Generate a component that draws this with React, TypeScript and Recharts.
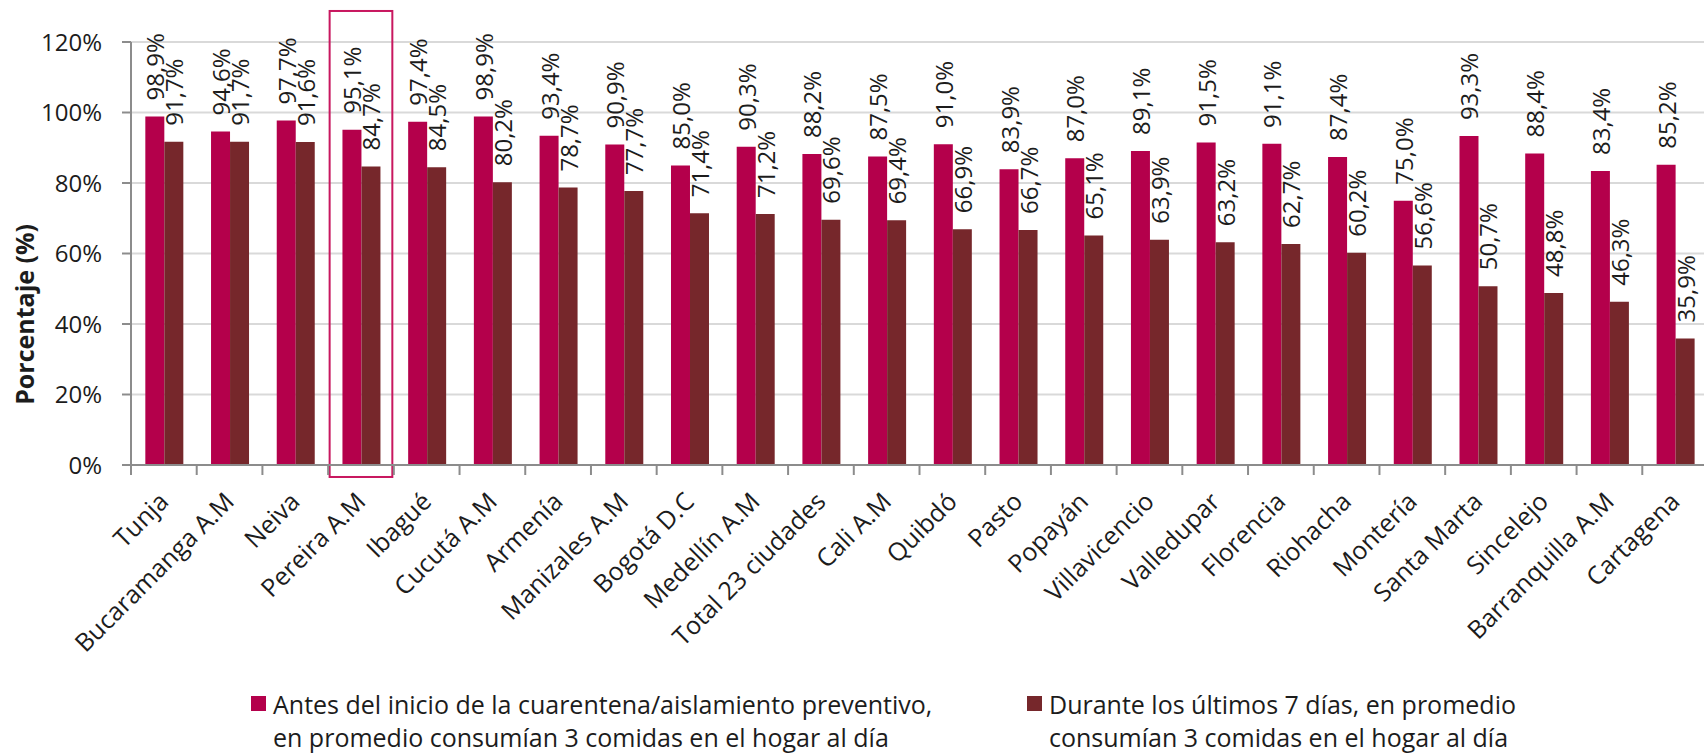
import React from 'react';
import {
  BarChart,
  Bar,
  XAxis,
  YAxis,
  CartesianGrid,
  Legend,
  LabelList,
  ReferenceArea,
} from 'recharts';

// Ciudades, en el orden del gráfico
const ciudades = [
  'Tunja', 'Bucaramanga A.M', 'Neiva', 'Pereira A.M', 'Ibagué', 'Cucutá A.M',
  'Armenía', 'Manizales A.M', 'Bogotá D.C', 'Medellín A.M', 'Total 23 ciudades',
  'Cali A.M', 'Quibdó', 'Pasto', 'Popayán', 'Villavicencio', 'Valledupar',
  'Florencia', 'Riohacha', 'Montería', 'Santa Marta', 'Sincelejo',
  'Barranquilla A.M', 'Cartagena',
];

// % de hogares que consumían 3 comidas antes de la cuarentena
const antes = [
  98.9, 94.6, 97.7, 95.1, 97.4, 98.9, 93.4, 90.9, 85.0, 90.3, 88.2, 87.5,
  91.0, 83.9, 87.0, 89.1, 91.5, 91.1, 87.4, 75.0, 93.3, 88.4, 83.4, 85.2,
];

// % durante los últimos 7 días
const durante = [
  91.7, 91.7, 91.6, 84.7, 84.5, 80.2, 78.7, 77.7, 71.4, 71.2, 69.6, 69.4,
  66.9, 66.7, 65.1, 63.9, 63.2, 62.7, 60.2, 56.6, 50.7, 48.8, 46.3, 35.9,
];

const yTicks = [0, 20, 40, 60, 80, 100, 120];
const ciudadResaltada = 'Pereira A.M';

const leyendaAntes = [
  'Antes del inicio de la cuarentena/aislamiento preventivo,',
  'en promedio consumían 3 comidas en el hogar al día',
];
const leyendaDurante = [
  'Durante los últimos 7 días, en promedio',
  'consumían 3 comidas en el hogar al día',
];

const data = ciudades.map((ciudad, i) => ({ ciudad, antes: antes[i], durante: durante[i] }));

const FONT = "'Open Sans', 'Noto Sans', sans-serif";
const PINK = '#B4004B';
const MAROON = '#76272B';
const TEXT = '#1c1c1c';
const AXIS = '#8c8c8c';

const CHART_W = 1720;
const CHART_H = 755;
const MARGIN = { top: 42, right: 12, left: 0, bottom: 0 };
const Y_AXIS_W = 131;
const X_AXIS_H = 223;
const LEGEND_H = 67;
const PLOT_H = CHART_H - MARGIN.top - MARGIN.bottom - X_AXIS_H - LEGEND_H;
const BAND = (CHART_W - MARGIN.left - MARGIN.right - Y_AXIS_W) / ciudades.length;
const TICK_MARGIN = 32;

const fmt = (v: number) => `${v.toFixed(1).replace('.', ',')}%`;

// rotated value label just above each bar
const ValueLabel = (props: any) => {
  const { x, y, width, value } = props;
  const cx = x + width / 2;
  const ty = y - 16;
  return (
    <text
      x={cx}
      y={ty}
      transform={`rotate(-90 ${cx} ${ty})`}
      textAnchor="start"
      dominantBaseline="central"
      style={{ fontSize: 24, fontFamily: FONT, fill: TEXT }}
    >
      {fmt(value)}
    </text>
  );
};

// category label at 45deg plus Excel-style tick marks between categories
const CityTick = (props: any) => {
  const { x, y, payload, index } = props;
  const half = BAND / 2;
  const axisY = y - TICK_MARGIN;
  const last = index === ciudades.length - 1;
  return (
    <g>
      <line x1={x - half} x2={x - half} y1={axisY} y2={axisY + 10} stroke={AXIS} strokeWidth={2} />
      {last && <line x1={x + half} x2={x + half} y1={axisY} y2={axisY + 10} stroke={AXIS} strokeWidth={2} />}
      <text
        x={x}
        y={y}
        dy="0.35em"
        transform={`rotate(-45 ${x} ${y})`}
        textAnchor="end"
        style={{ fontSize: 25, fontFamily: FONT, fill: TEXT }}
      >
        {payload.value}
      </text>
    </g>
  );
};

const YTitle = () => {
  const x = 24;
  const y = MARGIN.top + PLOT_H * 0.644;
  return (
    <text
      x={x}
      y={y}
      transform={`rotate(-90 ${x} ${y})`}
      textAnchor="middle"
      dominantBaseline="central"
      style={{ fontSize: 25, fontWeight: 700, fontFamily: FONT, fill: TEXT }}
    >
      Porcentaje (%)
    </text>
  );
};

const HighlightBox = (props: any) => {
  const { x, y, width, height } = props;
  return <rect x={x + 1.5} y={y} width={width - 3} height={height} fill="none" stroke="#C8175F" strokeWidth={2} />;
};

const LegendItem = ({ color, lines, width }: { color: string; lines: string[]; width?: number }) => (
  <div style={{ display: 'flex', alignItems: 'flex-start', width }}>
    <div style={{ width: 15, height: 15, background: color, marginTop: 8, marginRight: 7, flex: 'none' }} />
    <div>
      {lines.map((l) => (
        <div key={l} style={{ whiteSpace: 'nowrap' }}>{l}</div>
      ))}
    </div>
  </div>
);

const LegendContent = () => (
  <div
    style={{
      display: 'flex',
      paddingLeft: 251,
      height: LEGEND_H,
      fontFamily: FONT,
      fontSize: 25,
      lineHeight: '33px',
      color: TEXT,
    }}
  >
    <LegendItem color={PINK} lines={leyendaAntes} width={776} />
    <LegendItem color={MAROON} lines={leyendaDurante} />
  </div>
);

export default function App() {
  return (
    <div style={{ position: 'fixed', left: 0, top: 0, width: 1704, height: 755, overflow: 'hidden', background: '#fff' }}>
      <BarChart
        width={CHART_W}
        height={CHART_H}
        data={data}
        margin={MARGIN}
        barGap={0}
        barCategoryGap="21.8%"
      >
        <CartesianGrid vertical={false} stroke="#d9d9d9" strokeWidth={2} />
        <XAxis
          dataKey="ciudad"
          interval={0}
          tickLine={false}
          tickSize={0}
          tickMargin={TICK_MARGIN}
          tick={<CityTick />}
          axisLine={{ stroke: AXIS, strokeWidth: 2 }}
          height={X_AXIS_H}
        />
        <YAxis
          domain={[0, 120]}
          ticks={yTicks}
          tickFormatter={(v: number) => `${v}%`}
          width={Y_AXIS_W}
          tickSize={9}
          tickMargin={20}
          tickLine={{ stroke: AXIS, strokeWidth: 2 }}
          axisLine={{ stroke: AXIS, strokeWidth: 2 }}
          tick={{ fontSize: 24, fontFamily: FONT, fill: TEXT }}
          label={<YTitle />}
        />
        <Legend
          verticalAlign="bottom"
          align="left"
          content={<LegendContent />}
          wrapperStyle={{ left: 0, width: 1704 }}
        />
        <Bar dataKey="antes" fill={PINK} isAnimationActive={false}>
          <LabelList dataKey="antes" content={<ValueLabel />} />
        </Bar>
        <Bar dataKey="durante" fill={MAROON} isAnimationActive={false}>
          <LabelList dataKey="durante" content={<ValueLabel />} />
        </Bar>
        <ReferenceArea
          x1={ciudadResaltada}
          x2={ciudadResaltada}
          y1={-3.4}
          y2={128.8}
          ifOverflow="visible"
          shape={<HighlightBox />}
        />
      </BarChart>
    </div>
  );
}
